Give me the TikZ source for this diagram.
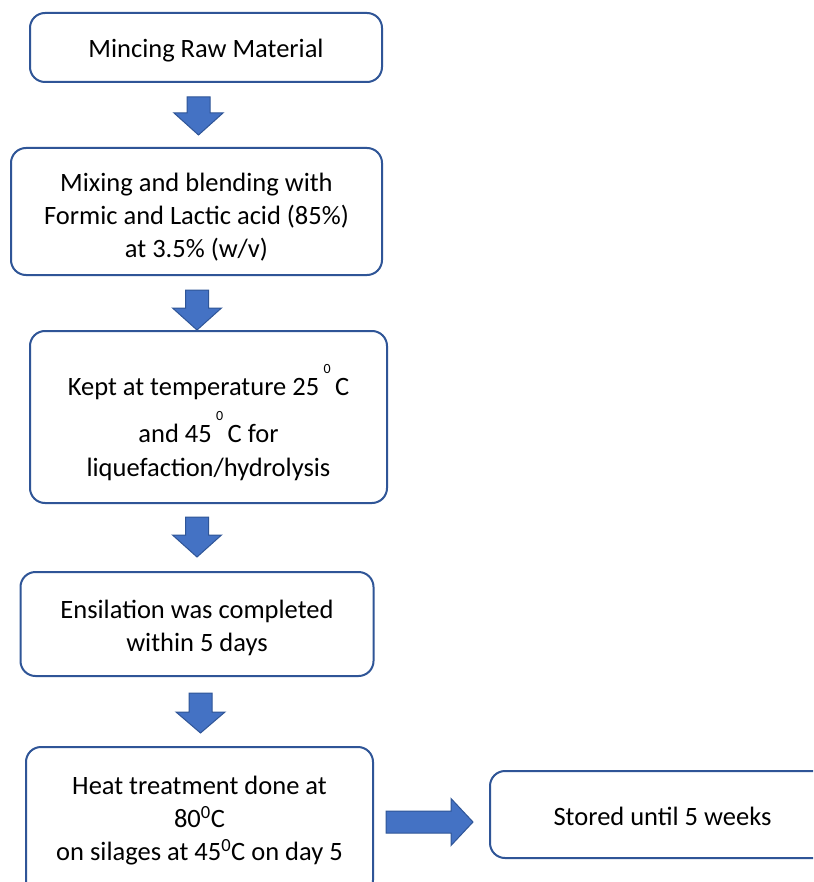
\documentclass[tikz,border=0pt]{standalone}
\usepackage{fontspec}
\setmainfont{Carlito}
\definecolor{boxline}{HTML}{2F5597}
\definecolor{arrowfill}{HTML}{4472C4}
\newcommand{\dnshift}[1]{\rule{0pt}{\dimexpr 19pt+#1\relax}}
\begin{document}
\begin{tikzpicture}[x=1pt,y=-1pt,
  stepbox/.style={draw=boxline, line width=2pt, rounded corners=15pt, fill=white,
    inner sep=0pt, align=center, font=\fontsize{26.5}{33}\selectfont},
  arrowstyle/.style={draw=boxline, line width=1pt, fill=arrowfill, line join=miter},
  pics/downarr/.style 2 args={code={
    \draw[arrowstyle] (-11.5,0) -- (11.5,0) -- (11.5,#1) -- (24.5,#1) -- (0,#1+#2)
      -- (-24.5,#1) -- (-11.5,#1) -- cycle;
    \coordinate (-tip) at (0,#1+#2);}},
  pics/rightarr/.style={code={
    \draw[arrowstyle] (0,-11) -- (65,-11) -- (65,-23.5) -- (87,0) -- (65,23.5)
      -- (65,11) -- (0,11) -- cycle;
    \coordinate (-tip) at (87,0);}},
]
\clip (0,0) rectangle (813,882);
\fill[white] (0,0) rectangle (813,882);

\node[stepbox, minimum width=352pt, minimum height=69pt] (b1) at (206,47.5)
  {\dnshift{6pt}Mincing Raw Material};
\node[stepbox, minimum width=371pt, minimum height=127pt] (b2) at (196.5,211.5)
  {\dnshift{10pt}Mixing and blending with\\Formic and Lactic acid (85\%)\\at 3.5\% (w/v)};
\node[stepbox, minimum width=357pt, minimum height=172pt] (b3) at (208.5,417)
  {\lineskiplimit=-100pt \rule{0pt}{42pt}Kept at temperature 25\,\raisebox{22pt}{\fontsize{14}{14}\selectfont 0}\,C\\[11pt]
   and 45\,\raisebox{22pt}{\fontsize{14}{14}\selectfont 0}\,C for\\[1pt]
   liquefaction/hydrolysis};
\node[stepbox, minimum width=353pt, minimum height=104pt] (b4) at (197,624)
  {\dnshift{8pt}Ensilation was completed\\within 5 days};
\node[stepbox, minimum width=347pt, minimum height=148pt] (b5) at (199.5,821)
  {Heat treatment done at\\80\textsuperscript{0}C\\on silages at 45\textsuperscript{0}C on day 5};
\node[stepbox, minimum width=345pt, minimum height=87pt] (b6) at (662.5,814.5)
  {\dnshift{4pt}Stored until 5 weeks};

\pic (a1) at (198.5,97) {downarr={16}{22}};
\pic (a2) at (197,290) {downarr={18}{22}};
\pic (a3) at (197,517) {downarr={18}{22}};
\pic (a4) at (200.5,693) {downarr={19}{21}};
\pic (a5) at (386,822) {rightarr};
\end{tikzpicture}
\end{document}
